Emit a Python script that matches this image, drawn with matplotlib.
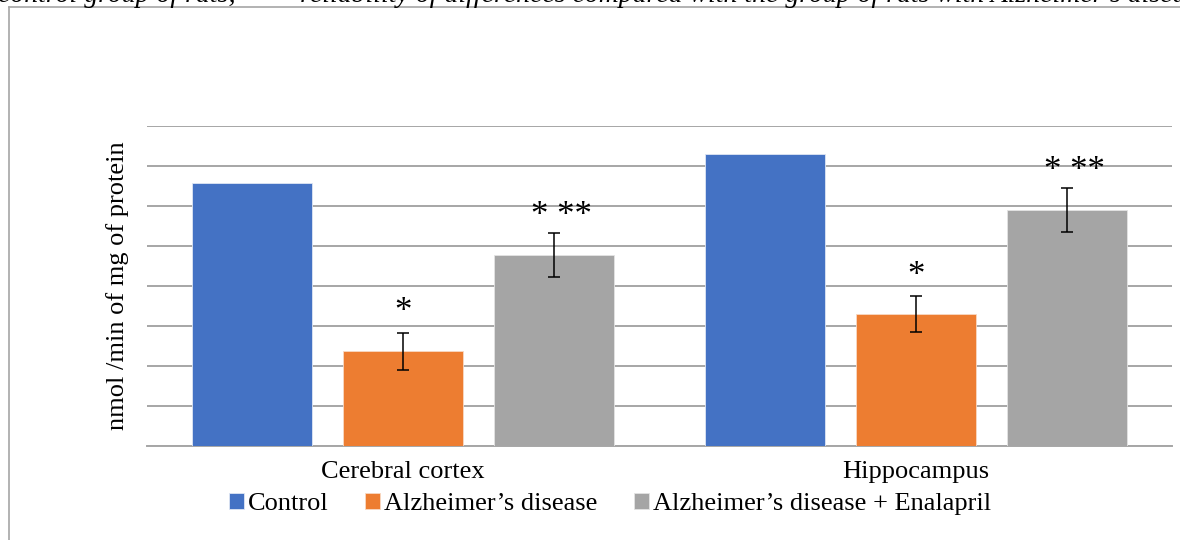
import numpy as np
from matplotlib import pyplot as plt
from matplotlib.lines import Line2D

plt.rcParams['font.family'] = ['Liberation Serif', 'DejaVu Serif']

categories = ['Cerebral cortex', 'Hippocampus']
series_names = ['Control', 'Alzheimer’s disease', 'Alzheimer’s disease + Enalapril']
control = [6.57, 7.3]
alzheimer = [2.37, 3.3]
alzheimer_err = [0.46, 0.45]
enalapril = [4.77, 5.9]
enalapril_err = [0.55, 0.55]
alzheimer_marks = ['*', '*']
enalapril_marks = ['* **', '* **']
note = ('control group of rats; ** – reliability of differences compared with '
        'the group of rats with Alzheimer’s disease')

colors = ['#4472C4', '#ED7D31', '#A5A5A5']
grid_color = '#A6A6A6'

fig = plt.figure(figsize=(11.8, 5.4), dpi=100)
ax = fig.add_axes([147 / 1180, 1 - 446 / 540, 1025 / 1180, 320 / 540])

x = np.arange(len(categories))
width = 0.234
step = 0.295

ax.bar(x - step, control, width, color=colors[0], label=series_names[0],
       edgecolor='#dfe6f3', linewidth=0.6, zorder=3)
ax.bar(x, alzheimer, width, color=colors[1], label=series_names[1],
       edgecolor='#f8d9c4', linewidth=0.6, zorder=3)
ax.bar(x + step, enalapril, width, color=colors[2], label=series_names[2],
       edgecolor='#e4e4e4', linewidth=0.6, zorder=3)

ax.errorbar(x, alzheimer, yerr=alzheimer_err, fmt='none', ecolor='black',
            elinewidth=1.1, capsize=4.5, capthick=1.1, zorder=4)
ax.errorbar(x + step, enalapril, yerr=enalapril_err, fmt='none', ecolor='black',
            elinewidth=1.1, capsize=4.5, capthick=1.1, zorder=4)

# significance marks above the error bars
for i in range(len(categories)):
    ax.text(x[i], alzheimer[i] + alzheimer_err[i] + 0.5, alzheimer_marks[i],
            ha='center', va='center', fontsize=25, zorder=5)
    ax.text(x[i] + step + 0.014, enalapril[i] + enalapril_err[i] + 0.42,
            enalapril_marks[i], ha='center', va='center', fontsize=25, zorder=5)

ax.set_xlim(-0.5, 1.5)
ax.set_ylim(0, 8)
ax.set_yticks(np.arange(0, 9, 1))
ax.set_yticklabels([])
ax.grid(axis='y', color=grid_color, linewidth=1.4, zorder=0)
ax.set_axisbelow(True)
for side in ['top', 'right', 'left']:
    ax.spines[side].set_visible(False)
ax.spines['bottom'].set_color(grid_color)
ax.spines['bottom'].set_linewidth(1.4)
ax.set_xticks(x)
ax.set_xticklabels(categories, fontsize=19)
ax.tick_params(axis='both', length=0)
ax.tick_params(axis='x', pad=11)

fig.text(118 / 1180, 1 - 286 / 540, 'nmol /min of mg of protein', rotation=90,
         ha='center', va='center', fontsize=19)

fig.legend(loc='center', bbox_to_anchor=(610 / 1180, 1 - 504 / 540), ncol=3,
           frameon=False, fontsize=19, handlelength=0.55, handleheight=0.55,
           handletextpad=0.15, columnspacing=1.4, borderaxespad=0)

# cut-off note above the chart frame
fig.text(-2 / 1180, 1 - 2 / 540, note, ha='left', va='baseline',
         fontsize=20, style='italic')

# frame of the chart area
fig.add_artist(Line2D([9 / 1180, 9 / 1180], [0, 1 - 7 / 540], color='#A6A6A6',
                      linewidth=1.2, transform=fig.transFigure))
fig.add_artist(Line2D([9 / 1180, 1], [1 - 7 / 540, 1 - 7 / 540], color='#A6A6A6',
                      linewidth=1.2, transform=fig.transFigure))

fig.savefig('out.png', dpi=100)
